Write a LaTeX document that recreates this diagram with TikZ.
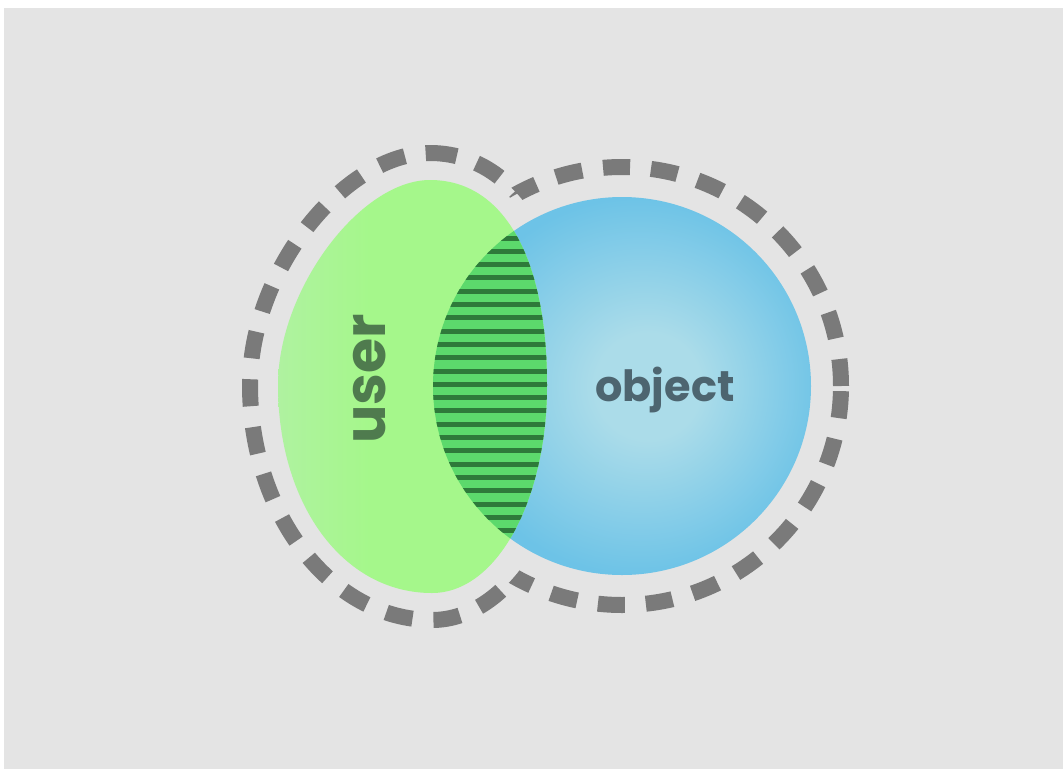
\documentclass[tikz,border=0pt]{standalone}
\usepackage{fontspec}
\newfontfamily\popfont{Poppins}
\definecolor{bgray}{HTML}{E4E4E4}
\definecolor{dashgray}{HTML}{7A7A7A}
\definecolor{gL}{HTML}{AFF2A0}
\definecolor{gM}{HTML}{A5F78B}
\definecolor{bIn}{HTML}{ABDCE9}
\definecolor{bOut}{HTML}{6DC3E7}
\definecolor{lensL}{HTML}{5CD96C}
\definecolor{lensD}{HTML}{2E7A3A}
\definecolor{userc}{HTML}{4F7B4E}
\definecolor{objc}{HTML}{4D6570}
\pgfdeclareradialshading{bluesh}{\pgfpoint{4bp}{0bp}}{color(0bp)=(bIn); color(7bp)=(bIn); color(25bp)=(bOut); color(50bp)=(bOut)}
\pgfdeclarehorizontalshading{greensh}{100bp}{color(0bp)=(gL); color(25bp)=(gL); color(42bp)=(gM); color(100bp)=(gM)}
\def\greenpath{(430,180) .. controls (505,180) and (547,260) .. (547,385) .. controls (547,500) and (497,593) .. (432,593) .. controls (342,593) and (278,503) .. (278,385) .. controls (278,290) and (360,180) .. (430,180) -- cycle}
\def\greenoff{(430,153) .. controls (515,153) and (575,245) .. (575,385) .. controls (575,515) and (510,620) .. (432,620) .. controls (332,620) and (250,515) .. (250,385) .. controls (250,270) and (345,153) .. (430,153) -- cycle}
\def\bluepath{(622,386) circle[radius=189pt]}
\def\blueoff{(622,386) circle[radius=219pt]}
\begin{document}
\begin{tikzpicture}[x=1pt,y=-1pt,
  outline/.style={draw=dashgray, line width=16pt, dash pattern=on 27pt off 21pt},
  lbl/.style={inner sep=0pt}]
\useasboundingbox (0,0) rectangle (1063,769);
\fill[white] (0,0) rectangle (1063,769);
\fill[bgray] (4,8) rectangle (1063,769);
% dashed outline of the union
\begin{scope}[even odd rule]
  \clip (0,0) rectangle (1063,769) \greenoff;
  \draw[outline] \blueoff;
\end{scope}
\begin{scope}[even odd rule]
  \clip (0,0) rectangle (1063,769) \blueoff;
  \draw[outline] \greenoff;
\end{scope}
% blue circle
\shade[shading=bluesh] \bluepath;
% green shape
\shade[shading=greensh] \greenpath;
% lens
\begin{scope}
  \clip \bluepath;
  \clip \greenpath;
  \fill[lensL] (420,220) rectangle (560,560);
  \foreach \k in {0,...,23}
    \fill[lensD] (420,{235.5+13.3*\k}) rectangle (560,{240.5+13.3*\k});
\end{scope}
% labels
\node[lbl, text=userc, rotate=90, anchor=base, font=\popfont\bfseries\fontsize{57}{57}\selectfont] (user) at (385,379) {user};
\node[lbl, text=objc, anchor=base, font=\popfont\bfseries\fontsize{43}{43}\selectfont] (object) at (665,401) {object};
\end{tikzpicture}
\end{document}
